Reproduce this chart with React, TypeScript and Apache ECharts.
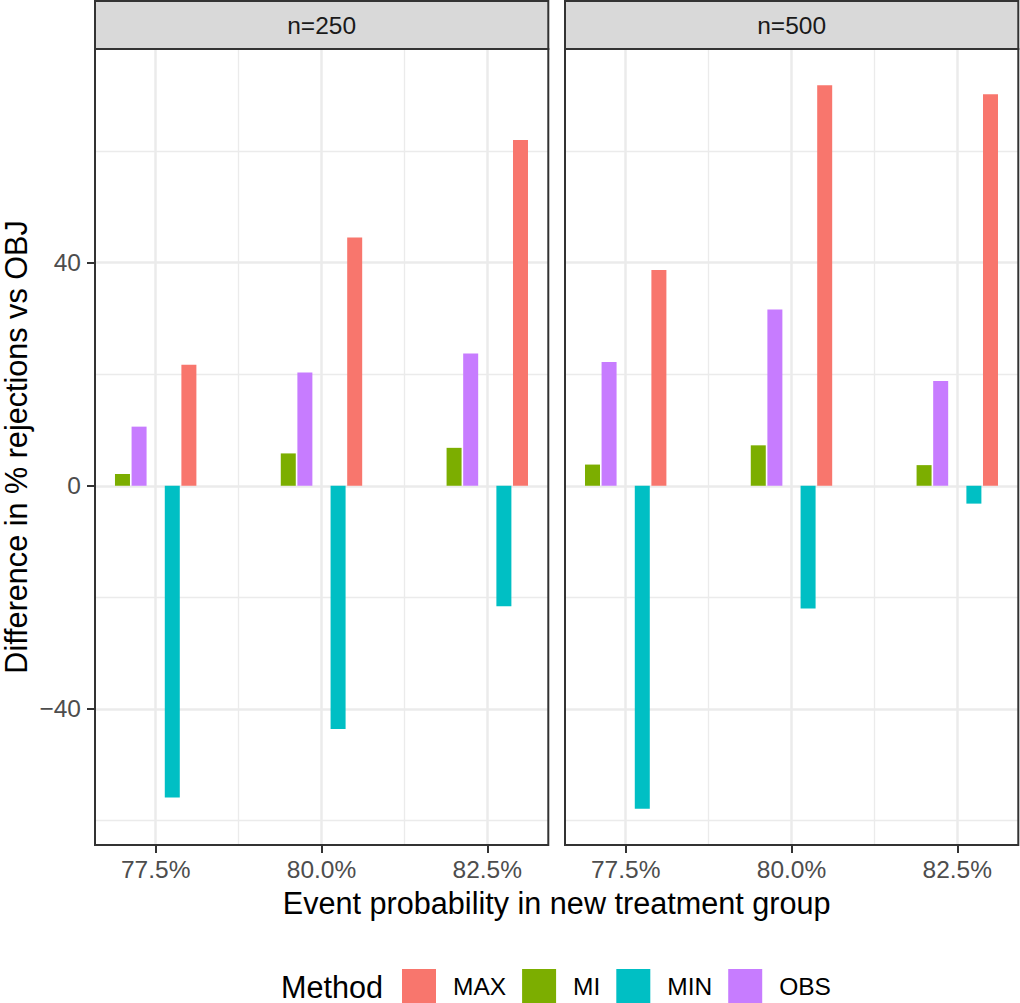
import React, { useEffect, useRef } from 'react';
import * as echarts from 'echarts';

// ---- data ----
const panels = ['n=250', 'n=500'];
const eventProb = [77.5, 80.0, 82.5];
const methods = ['MAX', 'MI', 'MIN', 'OBS'];
const methodColors: Record<string, string> = {
  MAX: '#F8766D',
  MI: '#7CAE00',
  MIN: '#00BFC4',
  OBS: '#C77CFF',
};
// n=250
const max250 = [21.7, 44.5, 62.0];
const mi250 = [2.1, 5.8, 6.8];
const min250 = [-55.9, -43.6, -21.6];
const obs250 = [10.6, 20.3, 23.7];
// n=500
const max500 = [38.7, 71.8, 70.2];
const mi500 = [3.8, 7.25, 3.7];
const min500 = [-57.9, -22.0, -3.2];
const obs500 = [22.2, 31.6, 18.8];

const yMajor = [-40, 0, 40];
const yMinor = [-60, -20, 20, 60];
const xMinor = [78.75, 81.25];

const panelData: Record<string, number[]>[] = [
  { MAX: max250, MI: mi250, MIN: min250, OBS: obs250 },
  { MAX: max500, MI: mi500, MIN: min500, OBS: obs500 },
];
// dodge order within a group (null = empty slot)
const dodgeOrder: (string | null)[] = ['MI', 'OBS', null, 'MIN', 'MAX'];

const FONT = '"Liberation Sans", Arial, Helvetica, sans-serif';
const panelLeft = [95, 565];
const panelWidth = 453.3;
const panelTop = 49;
const panelHeight = 796;

export default function App() {
  const ref = useRef<HTMLDivElement>(null);
  useEffect(() => {
    if (!ref.current) return;
    const chart = echarts.init(ref.current, null, { renderer: 'svg' });

    const grids = panelLeft.map((l) => ({
      left: l,
      top: panelTop,
      width: panelWidth,
      height: panelHeight,
      show: false,
    }));

    const xAxes = panels.map((_, i) => ({
      type: 'value',
      gridIndex: i,
      position: 'bottom',
      min: 76.585,
      max: 83.42,
      axisLine: { show: false, onZero: false },
      splitLine: { show: false },
      axisTick: {
        show: true,
        customValues: eventProb,
        length: 8,
        lineStyle: { color: '#333333', width: 2 },
      },
      axisLabel: {
        customValues: eventProb,
        formatter: (v: number) => v.toFixed(1) + '%',
        color: '#4D4D4D',
        fontSize: 24.5,
        fontFamily: FONT,
        margin: 12,
      },
    }));

    const yAxes = panels.map((_, i) => ({
      type: 'value',
      gridIndex: i,
      position: 'left',
      min: -64.4,
      max: 78.3,
      axisLine: { show: false, onZero: false },
      splitLine: { show: false },
      axisTick: {
        show: i === 0,
        customValues: yMajor,
        length: 8,
        lineStyle: { color: '#333333', width: 2 },
      },
      axisLabel: {
        show: i === 0,
        customValues: yMajor,
        formatter: (v: number) => (v < 0 ? '\u2212' + Math.abs(v) : String(v)),
        color: '#4D4D4D',
        fontSize: 24.5,
        fontFamily: FONT,
        margin: 14,
      },
    }));

    const series: any[] = [];
    panels.forEach((_, i) => {
      // grid lines
      series.push({
        type: 'line',
        xAxisIndex: i,
        yAxisIndex: i,
        data: [],
        z: 0,
        silent: true,
        markLine: {
          silent: true,
          z: 0,
          symbol: 'none',
          label: { show: false },
          animation: false,
          data: [
            ...yMinor.map((v) => ({ yAxis: v, lineStyle: { color: '#EBEBEB', width: 1.3, type: 'solid' } })),
            ...xMinor.map((v) => ({ xAxis: v, lineStyle: { color: '#EBEBEB', width: 1.3, type: 'solid' } })),
            ...yMajor.map((v) => ({ yAxis: v, lineStyle: { color: '#EBEBEB', width: 2.5, type: 'solid' } })),
            ...eventProb.map((v) => ({ xAxis: v, lineStyle: { color: '#EBEBEB', width: 2.5, type: 'solid' } })),
          ],
        },
      });
      dodgeOrder.forEach((m) => {
        if (m === null) {
          series.push({
            type: 'bar',
            name: '__gap',
            xAxisIndex: i,
            yAxisIndex: i,
            barWidth: 15,
            barGap: '10.7%',
            data: eventProb.map((x) => [x, '-']),
            itemStyle: { color: '#FFFFFF', opacity: 0, borderWidth: 0 },
            silent: true,
            z: 3,
          });
        } else {
          series.push({
            type: 'bar',
            name: m,
            xAxisIndex: i,
            yAxisIndex: i,
            barWidth: 15,
            barGap: '10.7%',
            data: eventProb.map((x, k) => [x, panelData[i][m][k]]),
            itemStyle: { color: methodColors[m] },
            z: 3,
          });
        }
      });
    });

    const graphics: any[] = [];
    panels.forEach((p, i) => {
      graphics.push({
        type: 'rect',
        shape: { x: panelLeft[i], y: 1, width: panelWidth, height: panelTop - 1 },
        style: { fill: '#D9D9D9', stroke: '#333333', lineWidth: 2 },
        z: 100,
      });
      graphics.push({
        type: 'text',
        x: panelLeft[i] + panelWidth / 2,
        y: 25,
        style: {
          text: p,
          fill: '#1A1A1A',
          fontSize: 24.5,
          fontFamily: FONT,
          textAlign: 'center',
          textVerticalAlign: 'middle',
        },
        z: 101,
      });
      graphics.push({
        type: 'rect',
        shape: { x: panelLeft[i], y: panelTop, width: panelWidth, height: panelHeight },
        style: { fill: 'none', stroke: '#333333', lineWidth: 2 },
        z: 100,
      });
    });
    graphics.push({
      type: 'text',
      x: (panelLeft[0] + panelLeft[1] + panelWidth) / 2,
      y: 903,
      style: {
        text: 'Event probability in new treatment group',
        fill: '#000000',
        fontSize: 30.6,
        fontFamily: FONT,
        textAlign: 'center',
        textVerticalAlign: 'middle',
      },
    });
    graphics.push({
      type: 'text',
      x: 16,
      y: panelTop + panelHeight / 2,
      rotation: Math.PI / 2,
      style: {
        text: 'Difference in % rejections vs OBJ',
        fill: '#000000',
        fontSize: 30.6,
        fontFamily: FONT,
        textAlign: 'center',
        textVerticalAlign: 'middle',
      },
    });
    graphics.push({
      type: 'text',
      x: 281,
      y: 987,
      style: {
        text: 'Method',
        fill: '#000000',
        fontSize: 30.6,
        fontFamily: FONT,
        textAlign: 'left',
        textVerticalAlign: 'middle',
      },
    });

    chart.setOption({
      animation: false,
      backgroundColor: '#FFFFFF',
      grid: grids,
      xAxis: xAxes,
      yAxis: yAxes,
      legend: {
        data: methods,
        left: 402,
        top: 969,
        itemWidth: 34,
        itemHeight: 34,
        itemGap: 16,
        icon: 'rect',
        selectedMode: false,
        padding: 0,
        textStyle: {
          fontSize: 24.5,
          color: '#000000',
          fontFamily: FONT,
          padding: [0, 0, 0, 12],
        },
      },
      series,
      graphic: graphics,
    });
    return () => chart.dispose();
  }, []);
  return (
    <div
      ref={ref}
      style={{ position: 'fixed', left: 0, top: 0, width: 1020, height: 1003 }}
    />
  );
}
